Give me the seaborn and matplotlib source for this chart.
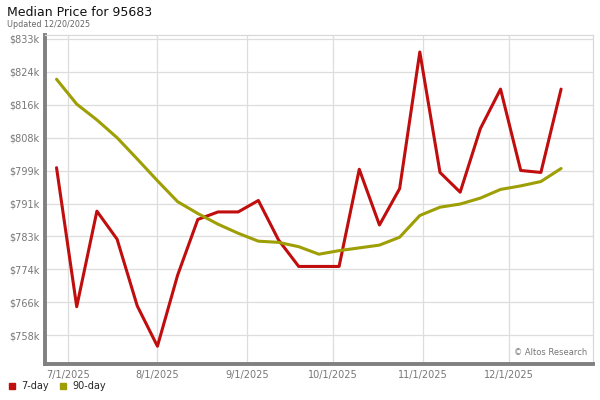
import pandas as pd
import numpy as np
import matplotlib
matplotlib.use('Agg')
import matplotlib.pyplot as plt
from matplotlib.lines import Line2D
import seaborn as sns

# weekly dates (Fridays)
dates = ['2025-06-27', '2025-07-04', '2025-07-11', '2025-07-18', '2025-07-25',
         '2025-08-01', '2025-08-08', '2025-08-15', '2025-08-22', '2025-08-29',
         '2025-09-05', '2025-09-12', '2025-09-19', '2025-09-26', '2025-10-03',
         '2025-10-10', '2025-10-17', '2025-10-24', '2025-10-31', '2025-11-07',
         '2025-11-14', '2025-11-21', '2025-11-28', '2025-12-05', '2025-12-12',
         '2025-12-19']

# median price in $k
price_7day = [800.5, 765.3, 789.5, 782.4, 765.5, 755.3, 773.3, 787.4, 789.3, 789.3,
              792.2, 782.2, 775.5, 775.5, 775.5, 800.1, 786.0, 795.2, 829.8, 799.3,
              794.3, 810.4, 820.4, 799.8, 799.3, 820.4]
price_90day = [822.9, 816.6, 812.6, 808.1, 802.7, 797.2, 791.9, 788.9, 786.2, 783.9,
               781.9, 781.6, 780.5, 778.6, 779.5, 780.2, 780.9, 782.9, 788.4, 790.5,
               791.3, 792.8, 795.0, 795.9, 797.0, 800.3]

y_ticks = [758100, 766433, 774767, 783100, 791433, 799767, 808100, 816433, 824767, 833100]
y_labels = ['$758k', '$766k', '$774k', '$783k', '$791k', '$799k', '$808k', '$816k', '$824k', '$833k']
x_ticks = ['2025-07-01', '2025-08-01', '2025-09-01', '2025-10-01', '2025-11-01', '2025-12-01']
x_labels = ['7/1/2025', '8/1/2025', '9/1/2025', '10/1/2025', '11/1/2025', '12/1/2025']

series_names = ['7-day', '90-day']
colors = {'7-day': '#c00d0d', '90-day': '#9e9e05'}

df = pd.DataFrame({
    'date': pd.to_datetime(dates * 2),
    'price': np.array(price_7day + price_90day) * 1000,
    'series': ['7-day'] * len(dates) + ['90-day'] * len(dates),
})

sns.set_theme(style='white')
plt.rcParams['font.family'] = ['DejaVu Sans']

fig = plt.figure(figsize=(6, 4), dpi=100)
ax = fig.add_axes([0.075, 0.09, 0.913, 0.8225])

sns.lineplot(data=df, x='date', y='price', hue='series', palette=colors,
             linewidth=2.2, legend=False, ax=ax)

ax.set_xlim(pd.Timestamp('2025-06-23'), pd.Timestamp('2025-12-30'))
ax.set_ylim(750800, 834100)
ax.set_yticks(y_ticks)
ax.set_yticklabels(y_labels)
ax.set_xticks(pd.to_datetime(x_ticks))
ax.set_xticklabels(x_labels)
ax.set_xlabel('')
ax.set_ylabel('')
ax.tick_params(axis='both', length=0, labelsize=7, colors='#777777')
ax.tick_params(axis='y', pad=4)
ax.tick_params(axis='x', pad=4)

ax.grid(True, color='#dddddd', linewidth=0.9)
ax.set_axisbelow(True)
for side in ['top', 'right']:
    ax.spines[side].set_color('#d8d8d8')
    ax.spines[side].set_linewidth(0.9)
for side in ['left', 'bottom']:
    ax.spines[side].set_color('#808080')
    ax.spines[side].set_linewidth(2.8)

fig.text(0.012, 0.968, 'Median Price for 95683', fontsize=9, color='#111111', va='center')
fig.text(0.012, 0.938, 'Updated 12/20/2025', fontsize=5.8, color='#666666', va='center')
ax.text(0.99, 0.035, '\u00a9 Altos Research', transform=ax.transAxes,
        fontsize=6, color='#777777', ha='right', va='center')

handles = [Line2D([], [], marker='s', linestyle='none', markersize=4.3,
                  color=colors[n], label=n) for n in series_names]
fig.legend(handles=handles, loc='center left', bbox_to_anchor=(-0.002, 0.035),
           ncol=2, frameon=False, fontsize=7, handletextpad=0.45,
           columnspacing=0.9, handlelength=1)

fig.savefig('out.png', dpi=100)
